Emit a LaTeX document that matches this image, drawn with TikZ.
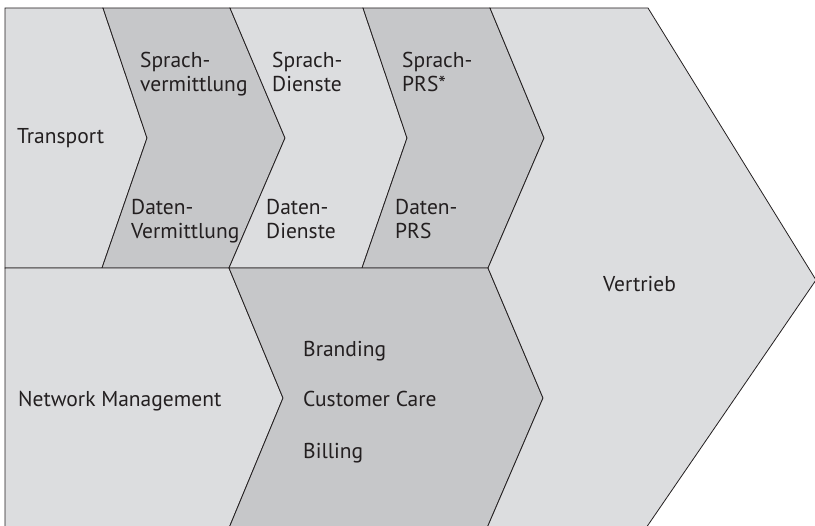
\documentclass[tikz,border=0pt]{standalone}
\usepackage{fontspec}
\setmainfont{PT Sans}
\definecolor{lightfill}{HTML}{DCDDDF}
\definecolor{darkfill}{HTML}{C6C7C9}
\definecolor{linecol}{HTML}{231F20}
\definecolor{txtcol}{HTML}{231F20}
\begin{document}
\begin{tikzpicture}[x=1pt,y=-1pt,
  segment/.style={draw=linecol,line width=0.8pt,line join=miter},
  lightseg/.style={segment,fill=lightfill},
  darkseg/.style={segment,fill=darkfill},
  lbl/.style={anchor=base west,inner sep=0pt,text=txtcol,align=left,font=\fontsize{21.5}{24.5}\selectfont}]
\useasboundingbox (0,0) rectangle (815,526);
\fill[white] (0,0) rectangle (815,526);
% top row
\path[lightseg] (5,8) -- (103,8) -- (147,138) -- (102,268) -- (5,268) -- cycle;
\path[darkseg] (103,8) -- (230,8) -- (285,138) -- (229,268) -- (102,268) -- (147,138) -- cycle;
\path[lightseg] (230,8) -- (363,8) -- (407,138) -- (362,268) -- (229,268) -- (285,138) -- cycle;
\path[darkseg] (363,8) -- (490,8) -- (544,138) -- (488,268) -- (362,268) -- (407,138) -- cycle;
% bottom row
\path[lightseg] (5,268) -- (229,268) -- (283,398) -- (229,528) -- (5,528) -- cycle;
\path[darkseg] (229,268) -- (488,268) -- (543,398) -- (487,528) -- (229,528) -- (283,398) -- cycle;
% Vertrieb
\path[lightseg] (490,8) -- (648,8) -- (816,280) -- (646,528) -- (487,528) -- (543,398) -- (488,268) -- (544,138) -- cycle;
% labels (multi-line nodes: base = last line)
\node[lbl] (transport) at (17,144) {Transport};
\node[lbl] (sv) at (140,92) {Sprach-\\vermittlung};
\node[lbl] (dv) at (131,239) {Daten-\\Vermittlung};
\node[lbl] (sd) at (272,92) {Sprach-\\Dienste};
\node[lbl] (dd) at (266,239) {Daten-\\Dienste};
\node[lbl] (sp) at (402,92) {Sprach-\\PRS*};
\node[lbl] (dp) at (395,239) {Daten-\\PRS};
\node[lbl] (vertrieb) at (603,292) {Vertrieb};
\node[lbl] (nm) at (18,407) {Network Management};
\node[lbl] (br) at (303,357) {Branding};
\node[lbl] (cc) at (303,407) {Customer Care};
\node[lbl] (bi) at (303,459) {Billing};
\end{tikzpicture}
\end{document}
